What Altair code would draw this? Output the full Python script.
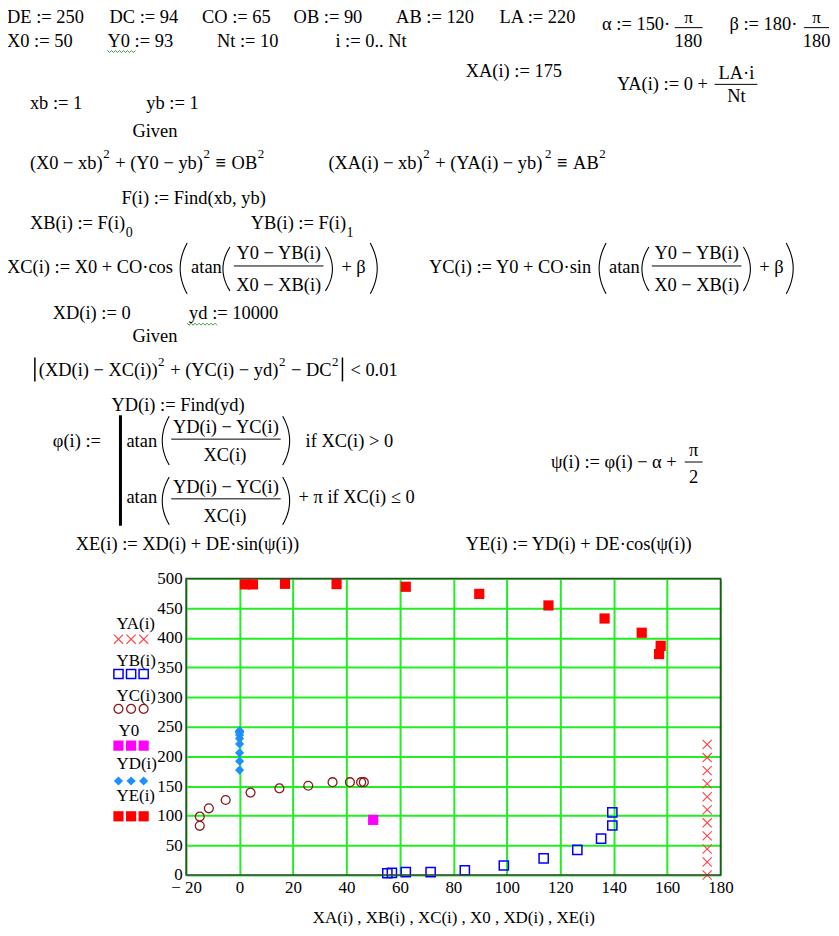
import altair as alt
import pandas as pd

# ---------------- data ----------------
XA = [175, 175, 175, 175, 175, 175, 175, 175, 175, 175, 175]
YA = [0, 22, 44, 66, 88, 110, 132, 154, 176, 198, 220]
XB = [55.3, 57.0, 62.2, 71.5, 84.3, 98.9, 113.8, 126.4, 135.3, 139.5, 139.5]
YB = [3, 3.5, 5, 5, 8, 16, 28, 42.5, 61.5, 83.5, 105.5]
XC = [46.5, 45.5, 41.3, 34.8, 25.7, 14.9, 4.1, -5.2, -11.5, -14.9, -14.9]
YC = [156.5, 156.5, 156.5, 156.5, 150.5, 146, 139, 126.5, 112.5, 98.5, 83]
X0 = [50]
Y0 = [93]
XD = [0, 0, 0, 0, 0, 0, 0, 0, 0, 0, 0]
YD = [240, 242, 243, 243, 241, 236, 230, 221, 206, 192, 177]
XE = [2.0, 5.0, 17.0, 36.3, 62.2, 89.7, 115.6, 136.6, 150.5, 157.6, 157.0]
YE = [490, 490, 491, 490.5, 486, 474, 454.5, 432.5, 408.5, 386.5, 372.5]

X_TICKS = [-20, 0, 20, 40, 60, 80, 100, 120, 140, 160, 180]
Y_TICKS = [0, 50, 100, 150, 200, 250, 300, 350, 400, 450, 500]
LEGEND_LABELS = ["YA(i)", "YB(i)", "YC(i)", "Y0", "YD(i)", "YE(i)"]
X_TITLE = "XA(i) , XB(i) , XC(i) , X0 , XD(i) , XE(i)"

# ---------------- layout (page pixels) ----------------
PLOT_L, PLOT_T, W, H = 187, 579, 537, 298
XMIN, XMAX, YMIN, YMAX = -20, 180, 0, 500
FONT = "'Liberation Serif', 'DejaVu Serif', serif"


def dx(px):
    return XMIN + (px - PLOT_L) * (XMAX - XMIN) / W


def dy(py):
    return YMAX - (py - PLOT_T) * (YMAX - YMIN) / H


XS = alt.Scale(domain=[XMIN, XMAX], nice=False, zero=False)
YS = alt.Scale(domain=[YMIN, YMAX], nice=False, zero=False)
AXC = dict(grid=True, gridColor="#22ee22", gridWidth=2, gridOpacity=1, domain=False,
           ticks=False, tickSize=0, labelFont=FONT, labelFontSize=17, labelColor="#000",
           labelFlush=False, labelOverlap=False, title=None)
AX = alt.Axis(values=X_TICKS, labelPadding=5,
              labelExpr="datum.value < 0 ? '\u2212 ' + abs(datum.value) : datum.label", **AXC)
AY = alt.Axis(values=Y_TICKS, labelPadding=4, **AXC)


def xy(xf="x:Q", yf="y:Q"):
    return dict(x=alt.X(xf, scale=XS, axis=AX), y=alt.Y(yf, scale=YS, axis=AY))


def points(xs, ys, **mark):
    df = pd.DataFrame({"x": xs, "y": ys})
    return alt.Chart(df).mark_point(opacity=1, **mark).encode(**xy())


STYLES = [
    dict(shape="M-1,-1L1,1M-1,1L1,-1", size=85, filled=False, color="#ff4040", strokeWidth=1.1),
    dict(shape="square", size=85, filled=False, color="#0000ff", strokeWidth=1.5),
    dict(shape="circle", size=80, filled=False, color="#8b1a1a", strokeWidth=1.3),
    dict(shape="square", size=105, filled=True, color="#ff00ff"),
    dict(shape="diamond", size=85, filled=True, color="#1e8fff"),
    dict(shape="square", size=105, filled=True, color="#ff0000"),
]
SERIES = [(XA, YA), (XB, YB), (XC, YC), (X0, Y0), (XD, YD), (XE, YE)]

layers = []
for (xs, ys), st in zip(SERIES, STYLES):
    layers.append(points(xs, ys, **st))

# frame
layers.append(alt.Chart(pd.DataFrame({"a": [0]})).mark_rect(fillOpacity=0, stroke="#404040", strokeWidth=1.6)
              .encode(x=alt.value(0), x2=alt.value(W), y=alt.value(0), y2=alt.value(H)))

# legend at left (label above three symbols)
LEG_LABEL_Y = [630, 667, 702, 737, 770, 803]
LEG_SYM_Y = [640, 675, 710, 747, 782.5, 818]
LEG_SYM_X = [119, 131.7, 144.3]
for st, sy in zip(STYLES, LEG_SYM_Y):
    layers.append(points([dx(v) for v in LEG_SYM_X], [dy(sy)] * 3, **st))


# ---------------- text helpers ----------------
WID = {" ": 250, "(": 333, ")": 333, "+": 564, "\u2212": 564, "=": 564, ":": 278, "·": 250,
       ",": 250, ".": 250, "<": 564, ">": 564, "≤": 549, "≡": 570, "|": 200,
       "A": 722, "B": 667, "C": 667, "D": 722, "E": 611, "F": 556, "G": 722, "N": 722,
       "O": 722, "X": 722, "Y": 722, "L": 611,
       "a": 444, "b": 500, "c": 444, "d": 500, "e": 444, "f": 333, "i": 278, "n": 500,
       "o": 500, "s": 389, "t": 278, "v": 500, "x": 500, "y": 500}


def tw(s, size):
    return sum(WID.get(ch, 500) for ch in s) / 1000.0 * size


F, S = 18.5, 13
SP = 0.25 * F
left_items, bold_items = [], []


def chain(x0, base, pieces, size=F, sup_up=11.5):
    x = x0
    for text, kind in pieces:
        if kind == "gap":
            x += float(text)
        elif kind == "n":
            left_items.append((x, base, text, size))
            x += tw(text, size)
        elif kind == "b":
            bold_items.append((x, base, text, size))
            x += tw(text, size) + 1
        elif kind == "sup":
            left_items.append((x + 0.5, base - sup_up, text, S))
            x += tw(text, S) + 1.5
        elif kind == "sub":
            left_items.append((x + 0.5, base + 8, text, 14))
            x += tw(text, 14) + 1
    return x


left_items += [
    (7, 20.5, "DE := 250", F), (110, 20.5, "DC := 94", F), (203, 20.5, "CO := 65", F),
    (295, 20.5, "OB := 90", F), (398, 20.5, "AB := 120", F), (502, 20.5, "LA := 220", F),
    (605, 28, "α := 150·", F), (733, 28, "β := 180·", F),
    (7, 45, "X0 := 50", F), (108, 45, "Y0 := 93", F), (218, 45, "Nt := 10", F),
    (337, 45, "i := 0.. Nt", F),
    (468, 75, "XA(i) := 175", F), (620, 88, "YA(i) := 0 +", F),
    (30, 107, "xb := 1", F), (147, 107, "yb := 1", F),
    (133, 135, "Given", F),
    (122, 203, "F(i) := Find(xb, yb)", F),
    (7, 272, "XC(i) := X0 + CO·cos", F), (192, 272, "atan", F), (343, 272, "+ β", F),
    (431, 272, "YC(i) := Y0 + CO·sin", F), (612, 272, "atan", F), (763, 272, "+ β", F),
    (53, 318, "XD(i) := 0", F), (190, 318, "yd := 10000", F),
    (133, 341, "Given", F),
    (112, 411, "YD(i) := Find(yd)", F),
    (53, 447, "φ(i) :=", F),
    (127, 447, "atan", F), (307, 447, "if  XC(i) > 0", F),
    (127, 503, "atan", F), (300, 503, "+ π  if  XC(i) ≤ 0", F),
    (76, 550, "XE(i) := XD(i) + DE·sin(ψ(i))", F),
    (468, 550, "YE(i) := YD(i) + DE·cos(ψ(i))", F),
]
right_items = [(680, 468, "ψ(i) := φ(i) − α +", F)]
left_items += [(117 if lab != "Y0" else 119, y, lab, 17) for lab, y in zip(LEGEND_LABELS, LEG_LABEL_Y)]

chain(30, 168, [("(X0 − xb)", "n"), ("2", "sup"), (SP, "gap"), ("+ (Y0 − yb)", "n"), ("2", "sup"),
                (SP, "gap"), ("≡", "b"), (SP, "gap"), ("OB", "n"), ("2", "sup")])
chain(330, 168, [("(XA(i) − xb)", "n"), ("2", "sup"), (SP, "gap"), ("+ (YA(i) − yb)", "n"), ("2", "sup"),
                 (SP, "gap"), ("≡", "b"), (SP, "gap"), ("AB", "n"), ("2", "sup")])
chain(30, 228, [("XB(i) := F(i)", "n"), ("0", "sub")])
chain(252, 228, [("YB(i) := F(i)", "n"), ("1", "sub")])
abs_end = chain(39, 376, [("(XD(i) − XC(i))", "n"), ("2", "sup"), (SP, "gap"), ("+ (YC(i) − yd)", "n"),
                          ("2", "sup"), (SP, "gap"), ("− DC", "n"), ("2", "sup")], sup_up=10)
left_items.append((abs_end + 11, 376, "< 0.01", F))

center_items = [
    (691.7, 20.5, "π", 17), (691.7, 45, "180", F), (820.5, 20.5, "π", 17), (820.5, 45, "180", F),
    (740, 77, "LA·i", F), (740, 100, "Nt", F),
    (280, 258, "Y0 − YB(i)", F), (280, 290, "X0 − XB(i)", F),
    (700, 258, "Y0 − YB(i)", F), (700, 290, "X0 − XB(i)", F),
    (227, 433, "YD(i) − YC(i)", F), (226, 461, "XC(i)", F),
    (227, 493, "YD(i) − YC(i)", F), (226, 522, "XC(i)", F),
    (697, 456, "π", F), (697, 483, "2", F),
    (456, 925, X_TITLE, 17),
]


def texts(items, align="left", weight="normal", color="black"):
    df = pd.DataFrame([{"x": dx(px), "y": dy(py), "t": t, "s": s} for (px, py, t, s) in items])
    return alt.Chart(df).mark_text(align=align, baseline="alphabetic", font=FONT,
                                   fontWeight=weight, color=color).encode(
        text=alt.Text("t:N"), size=alt.Size("s:Q", scale=None, legend=None), **xy())


layers.append(texts(left_items, "left"))
layers.append(texts(right_items, "right"))
layers.append(texts(center_items, "center"))
layers.append(texts(bold_items, "left", weight="bold"))


def rules(segs, width):
    df = pd.DataFrame([{"x": dx(a), "x2": dx(b), "y": dy(c), "y2": dy(d)} for (a, b, c, d) in segs])
    return alt.Chart(df).mark_rule(color="black", strokeWidth=width).encode(
        x2="x2:Q", y2="y2:Q", **xy())


bars = [(678, 706, 25.5, 25.5), (808, 833, 25.5, 25.5), (718, 761, 82.5, 82.5), (235, 325, 265, 265),
        (655, 745, 265, 265), (172, 282, 439, 439), (172, 282, 499, 499), (688, 706, 462, 462)]
layers.append(rules(bars, 1))
layers.append(rules([(35, 35, 357, 381), (abs_end + 3, abs_end + 3, 357, 381)], 1.5))
layers.append(rules([(121, 121, 415, 526)], 3))

# big parentheses drawn as thin curves
PARENS = [("(", 181, 242, 293), ("(", 224, 246, 290), (")", 334, 246, 290), (")", 379, 242, 293),
          ("(", 602, 242, 293), ("(", 645, 246, 290), (")", 754, 246, 290), (")", 797, 242, 293),
          ("(", 163, 416, 465), (")", 291, 416, 465), ("(", 163, 477, 525), (")", 291, 477, 525)]
rows = []
for pid, (side, xe, yt, yb) in enumerate(PARENS):
    n = 16
    for k in range(n + 1):
        u = -1 + 2 * k / n
        off = 7 * (u * u)
        px = xe + off if side == "(" else xe - off
        py = (yt + yb) / 2 + u * (yb - yt) / 2
        rows.append({"id": pid, "k": k, "x": dx(px), "y": dy(py)})
layers.append(alt.Chart(pd.DataFrame(rows)).mark_line(color="black", strokeWidth=1.1).encode(
    detail="id:N", order="k:Q", **xy()))

# green squiggles (spell-check marks)
SQ = [(108, 137, 49), (188, 218, 323)]
rows = []
for sid, (a, b, yy) in enumerate(SQ):
    k = 0
    px = a
    while px <= b:
        rows.append({"id": sid, "k": k, "x": dx(px), "y": dy(yy + (1.5 if k % 2 else -0.5))})
        px += 2
        k += 1
layers.append(alt.Chart(pd.DataFrame(rows)).mark_line(color="#3a9a3a", strokeWidth=1).encode(
    detail="id:N", order="k:Q", **xy()))

chart = alt.layer(*layers).properties(
    width=W, height=H,
    padding={"left": PLOT_L - 8, "top": PLOT_T - 8, "right": 111, "bottom": 51},
    autosize=alt.AutoSizeParams(type="none"),
    background="white",
).configure_view(strokeWidth=0)

chart.save("out.html", embed_options={"renderer": "svg", "actions": False})
